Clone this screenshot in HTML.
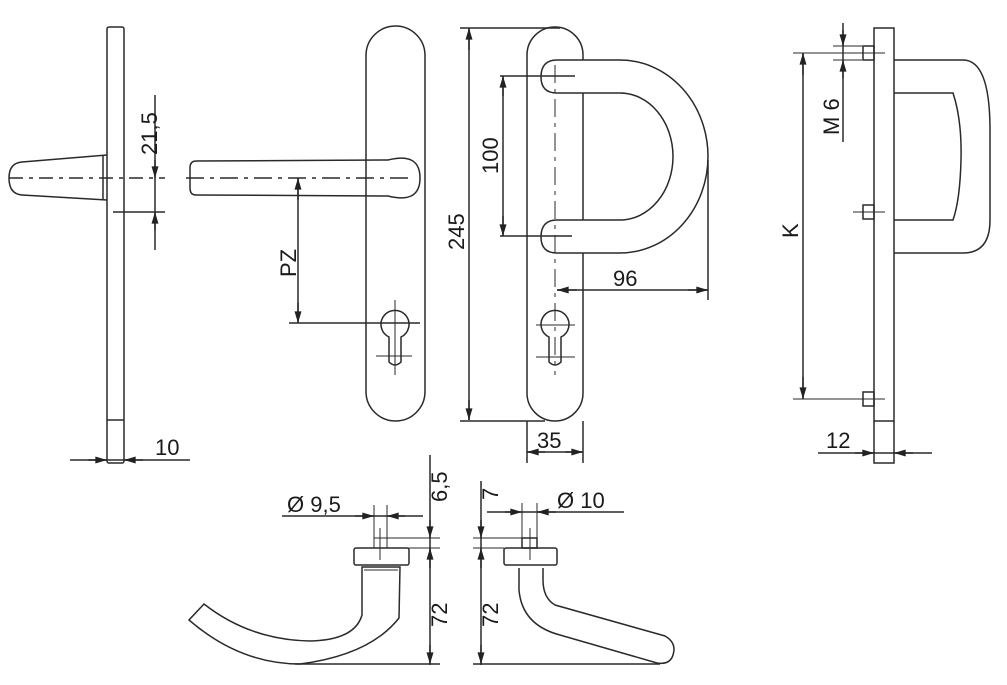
<!DOCTYPE html>
<html><head><meta charset="utf-8"><style>
html,body{margin:0;padding:0;background:#fff;}
svg{display:block;}
text{font-family:"Liberation Sans",sans-serif;font-size:22px;fill:#1a1a1a;}
</style></head><body>
<svg width="1007" height="685" viewBox="0 0 1007 685" xmlns="http://www.w3.org/2000/svg">
<defs>
<marker id="a" viewBox="0 0 10 6" refX="10" refY="3" markerWidth="16" markerHeight="7" markerUnits="userSpaceOnUse" orient="auto-start-reverse"><path d="M0,0 L10,3 L0,6z" fill="#222"/></marker>
</defs>
<g fill="none" stroke="#2a2a2a" stroke-width="1.5">
<rect x="107" y="27" width="17" height="436" rx="2"/>
<line x1="107" y1="420" x2="124" y2="420"/>
<path d="M107,155 L22,162 Q9,163 9,178 Q9,194 22,195 L107,200"/>
<line x1="103" y1="156" x2="103" y2="199"/>
<line x1="9" y1="178" x2="165" y2="178" stroke-dasharray="14,6,4,6"/>
<line x1="155" y1="95" x2="155" y2="250"/>
<line x1="155" y1="160" x2="155" y2="178" marker-end="url(#a)"/>
<line x1="155" y1="230" x2="155" y2="212" marker-end="url(#a)"/>
<line x1="113" y1="212" x2="165" y2="212"/>
<line x1="70" y1="460" x2="190" y2="460"/>
<line x1="88" y1="460" x2="107" y2="460" marker-end="url(#a)"/>
<line x1="143" y1="460" x2="124" y2="460" marker-end="url(#a)"/>

<rect x="366" y="26" width="59" height="395" rx="29.5"/>
<path d="M196,161 L388,160 Q420,152 420,178 Q420,204 388,196 L196,195 Q190,195 190,188 L190,168 Q190,161 196,161"/>
<line x1="186" y1="178" x2="412" y2="178" stroke-dasharray="18,6,4,6"/>
<line x1="298" y1="178" x2="298" y2="323"/>
<line x1="298" y1="200" x2="298" y2="178" marker-end="url(#a)"/>
<line x1="298" y1="303" x2="298" y2="323" marker-end="url(#a)"/>
<line x1="289" y1="323" x2="420" y2="323"/>
<path d="M389,337 A14,14 0 1 1 401,337 L401,362 Q395,368 389,362 Z"/>
<line x1="395" y1="300" x2="395" y2="375" stroke-width="1"/>
<line x1="376" y1="356" x2="412" y2="356" stroke-width="1"/>
<line x1="469" y1="28" x2="469" y2="420"/>
<line x1="469" y1="50" x2="469" y2="28" marker-end="url(#a)"/>
<line x1="469" y1="400" x2="469" y2="420" marker-end="url(#a)"/>
<line x1="460" y1="28" x2="560" y2="28"/>
<line x1="460" y1="421" x2="545" y2="421"/>

<rect x="527" y="27" width="56" height="394" rx="28"/>
<path d="M557,60 L620,60 A88,96.5 0 0 1 620,253 L557,253 Q541,253 541,237 Q541,220 557,220 L620,220 A53,63.5 0 0 0 620,93 L557,93 Q541,93 541,77 Q541,60 557,60 Z" fill="#fff"/>
<line x1="555" y1="65" x2="555" y2="375" stroke-dasharray="18,6,4,6" stroke-width="1"/>
<line x1="503" y1="76" x2="503" y2="236"/>
<line x1="503" y1="96" x2="503" y2="76" marker-end="url(#a)"/>
<line x1="503" y1="216" x2="503" y2="236" marker-end="url(#a)"/>
<line x1="500" y1="76" x2="575" y2="76"/>
<line x1="500" y1="236" x2="572" y2="236"/>
<line x1="708" y1="160" x2="708" y2="300"/>
<line x1="557" y1="290" x2="708" y2="290"/>
<line x1="577" y1="290" x2="557" y2="290" marker-end="url(#a)"/>
<line x1="688" y1="290" x2="708" y2="290" marker-end="url(#a)"/>
<path d="M549,337 A14,14 0 1 1 561,337 L561,362 Q555,368 549,362 Z"/>
<line x1="536" y1="325" x2="575" y2="325" stroke-width="1"/>
<line x1="536" y1="357" x2="575" y2="357" stroke-width="1"/>
<line x1="527" y1="421" x2="527" y2="463"/>
<line x1="583" y1="421" x2="583" y2="463"/>
<line x1="527" y1="452" x2="583" y2="452"/>
<line x1="545" y1="452" x2="527" y2="452" marker-end="url(#a)"/>
<line x1="565" y1="452" x2="583" y2="452" marker-end="url(#a)"/>

<rect x="874" y="28" width="20" height="435"/>
<line x1="874" y1="421" x2="894" y2="421"/>
<path d="M894,60 L963,60 Q990,60 990,130 L990,220 Q990,253 963,253 L894,253"/>
<path d="M894,93 L953,93 Q962,120 961,160 Q960,200 953,220 L894,220"/>
<rect x="863" y="46" width="11" height="14"/>
<rect x="863" y="205" width="11" height="14"/>
<rect x="863" y="392" width="11" height="14"/>
<line x1="853" y1="212" x2="885" y2="212" stroke-width="1"/>
<line x1="793" y1="399" x2="885" y2="399" stroke-width="1"/>
<line x1="793" y1="53" x2="885" y2="53" stroke-width="1"/>
<line x1="803" y1="53" x2="803" y2="399"/>
<line x1="803" y1="75" x2="803" y2="53" marker-end="url(#a)"/>
<line x1="803" y1="377" x2="803" y2="399" marker-end="url(#a)"/>
<line x1="843" y1="23" x2="843" y2="142"/>
<line x1="843" y1="30" x2="843" y2="46" marker-end="url(#a)"/>
<line x1="843" y1="78" x2="843" y2="60" marker-end="url(#a)"/>
<line x1="833" y1="46" x2="862" y2="46" stroke-width="1"/>
<line x1="833" y1="60" x2="862" y2="60" stroke-width="1"/>
<line x1="818" y1="453" x2="932" y2="453"/>
<line x1="855" y1="453" x2="874" y2="453" marker-end="url(#a)"/>
<line x1="913" y1="453" x2="894" y2="453" marker-end="url(#a)"/>

<rect x="354" y="548" width="55" height="17" rx="2"/>
<line x1="374" y1="505" x2="374" y2="548" stroke-width="1"/>
<line x1="387" y1="505" x2="387" y2="548" stroke-width="1"/>
<line x1="380" y1="528" x2="380" y2="560" stroke-width="1"/>
<line x1="282" y1="516" x2="423" y2="516"/>
<line x1="355" y1="516" x2="374" y2="516" marker-end="url(#a)"/>
<line x1="405" y1="516" x2="387" y2="516" marker-end="url(#a)"/>
<line x1="374" y1="538" x2="440" y2="538" stroke-width="1"/>
<line x1="374" y1="548" x2="440" y2="548" stroke-width="1"/>
<line x1="430" y1="455" x2="430" y2="665"/>
<line x1="430" y1="520" x2="430" y2="538" marker-end="url(#a)"/>
<line x1="430" y1="568" x2="430" y2="548" marker-end="url(#a)"/>
<line x1="430" y1="645" x2="430" y2="664" marker-end="url(#a)"/>
<line x1="295" y1="664" x2="440" y2="664"/>
<path d="M362,567 L400,567 L399,618 Q370,655 300,664 Q240,664 189,620 L204,604 Q250,640 310,641 Q355,640 362,615 Z"/>
<line x1="364" y1="570" x2="398" y2="570" stroke-width="1"/>

<rect x="504" y="548" width="53" height="17" rx="2"/>
<rect x="522" y="538" width="15" height="10"/>
<line x1="530" y1="528" x2="530" y2="560" stroke-width="1"/>
<line x1="522" y1="503" x2="522" y2="538" stroke-width="1"/>
<line x1="537" y1="503" x2="537" y2="538" stroke-width="1"/>
<line x1="487" y1="512" x2="624" y2="512"/>
<line x1="505" y1="512" x2="522" y2="512" marker-end="url(#a)"/>
<line x1="556" y1="512" x2="537" y2="512" marker-end="url(#a)"/>
<line x1="473" y1="538" x2="522" y2="538" stroke-width="1"/>
<line x1="473" y1="548" x2="504" y2="548" stroke-width="1"/>
<line x1="481" y1="481" x2="481" y2="665"/>
<line x1="481" y1="520" x2="481" y2="538" marker-end="url(#a)"/>
<line x1="481" y1="568" x2="481" y2="548" marker-end="url(#a)"/>
<line x1="481" y1="645" x2="481" y2="664" marker-end="url(#a)"/>
<line x1="473" y1="664" x2="660" y2="664"/>
<path d="M519,568 L519,590 Q522,625 560,635 L657,663 Q670,665 673,655 Q677,643 665,636 L555,605 Q543,598 543,580 L543,568"/>
</g>

<text transform="translate(157,155) rotate(-90)">21,5</text>
<text x="155" y="455">10</text>
<text transform="translate(296,277) rotate(-90)">PZ</text>
<text transform="translate(464,250) rotate(-90)">245</text>
<text transform="translate(498,174) rotate(-90)">100</text>
<text x="613" y="286">96</text>
<text x="537" y="448">35</text>
<text transform="translate(839,135) rotate(-90)">M 6</text>
<text transform="translate(798,238) rotate(-90)">K</text>
<text x="826" y="448">12</text>
<text x="287" y="512">Ø 9,5</text>
<text transform="translate(447,502) rotate(-90)">6,5</text>
<text transform="translate(447,627) rotate(-90)">72</text>
<text transform="translate(498,500) rotate(-90)">7</text>
<text transform="translate(498,627) rotate(-90)">72</text>
<text x="557" y="508">Ø 10</text>
</svg>
</body></html>
